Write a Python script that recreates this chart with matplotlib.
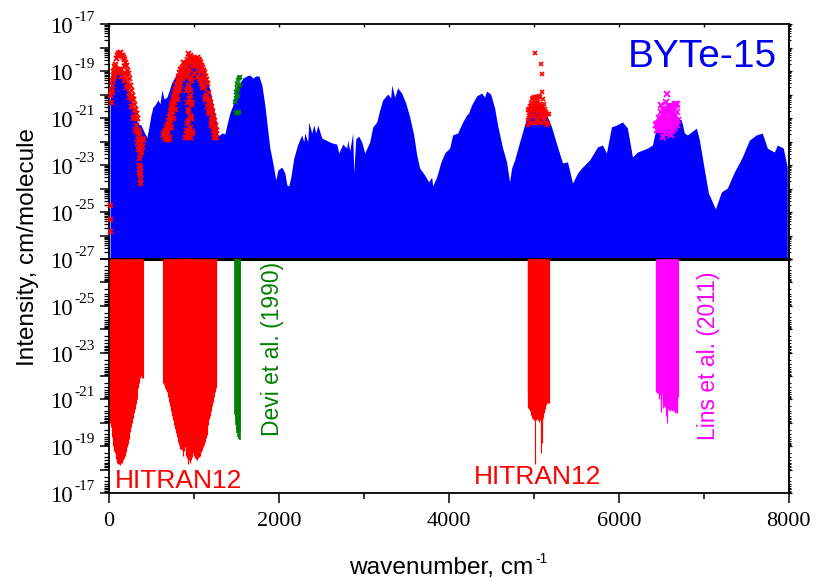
import numpy as np
import matplotlib
matplotlib.use('Agg')
import matplotlib.pyplot as plt
from matplotlib.ticker import FixedLocator, NullFormatter

plt.rcParams['font.family'] = ['Liberation Sans', 'DejaVu Sans']

# BYTe envelope, log10 of intensity
byte_wn = [12, 35, 59, 106, 153, 200, 247, 294, 341, 376, 423, 447, 470, 494, 517, 541, 576, 600, 623, 647,
           682, 741, 811, 905, 976, 1046, 1105, 1164, 1211, 1258, 1281, 1328, 1364, 1387, 1422, 1458, 1493,
           1540, 1575, 1622, 1658, 1693, 1728, 1763, 1799, 1834, 1858, 1893, 1928, 1963, 1987, 2034, 2069,
           2093, 2116, 2140, 2175, 2222, 2269, 2292, 2304, 2339, 2351, 2386, 2410, 2434, 2457, 2504, 2551,
           2622, 2680, 2704, 2751, 2798, 2810, 2833, 2868, 2880, 2904, 2939, 2974, 3010, 3068, 3104, 3151,
           3186, 3221, 3280, 3315, 3327, 3362, 3397, 3444, 3492, 3539, 3586, 3621, 3656, 3715, 3762, 3797,
           3809, 3856, 3903, 3950, 4009, 4044, 4103, 4162, 4209, 4232, 4267, 4326, 4385, 4420, 4444, 4491,
           4538, 4573, 4632, 4679, 4714, 4738, 4773, 4832, 4890, 4949, 5043, 5126, 5208, 5278, 5337, 5396,
           5455, 5514, 5561, 5655, 5749, 5807, 5854, 5913, 5972, 6043, 6101, 6160, 6219, 6337, 6395, 6442,
           6560, 6678, 6736, 6771, 6807, 6913, 6948, 7007, 7054, 7136, 7206, 7277, 7359, 7453, 7536, 7618,
           7688, 7747, 7830, 7865, 7935, 7982]
byte_log = [-19.98, -19.04, -18.87, -19.0, -19.05, -19.4, -20.0, -20.66, -21.26, -21.3, -21.68, -21.81, -21.38,
            -20.87, -20.53, -20.45, -20.23, -20.4, -19.81, -20.19, -20.11, -19.47, -19.04, -18.62, -18.53,
            -18.62, -18.87, -19.47, -20.23, -21.09, -21.77, -21.64, -21.68, -21.3, -20.79, -20.45, -19.72,
            -19.51, -19.3, -19.21, -19.17, -19.3, -19.21, -19.21, -19.6, -20.45, -21.21, -22.28, -22.91,
            -23.64, -23.21, -23.09, -23.34, -23.85, -23.89, -23.51, -22.7, -22.11, -21.72, -22.02, -21.64,
            -22.02, -21.17, -21.64, -21.3, -21.64, -21.3, -21.85, -21.94, -22.06, -22.11, -22.49, -22.11,
            -22.28, -21.94, -22.4, -21.64, -23.34, -21.89, -21.77, -22.02, -22.49, -22.02, -21.38, -21.17,
            -20.66, -20.23, -19.98, -20.15, -19.6, -20.11, -19.72, -19.94, -20.36, -20.96, -21.72, -22.57,
            -23.13, -23.43, -23.72, -23.51, -23.89, -23.51, -22.91, -22.49, -22.28, -21.72, -21.64, -21.17,
            -20.87, -20.79, -20.45, -20.06, -19.94, -20.11, -19.85, -19.98, -20.57, -21.3, -22.28, -22.87,
            -23.72, -23.13, -22.79, -22.02, -21.3, -20.66, -20.23, -20.66, -21.38, -22.23, -22.91, -22.87,
            -23.77, -23.34, -23.13, -22.79, -22.23, -22.15, -22.49, -21.38, -21.3, -21.17, -21.43, -22.66,
            -22.45, -22.28, -22.15, -21.38, -21.51, -20.96, -21.09, -21.64, -21.72, -21.43, -21.94, -23.21,
            -24.19, -24.87, -24.15, -23.98, -23.3, -22.66, -21.94, -21.72, -21.64, -22.28, -22.45, -22.15,
            -22.28, -23.09]

# HITRAN12: strong edge of the low bands
hitran_wn = [12, 24, 35, 47, 59, 70, 82, 94, 106, 118, 129, 141, 153, 165, 176, 188, 200, 212, 223, 235, 247, 259,
             270, 282, 294, 306, 317, 329, 341, 353, 364, 376, 388, 406,
             635, 647, 658, 670, 682, 694, 706, 717, 729, 741, 753, 764, 776, 788, 799, 811, 823, 835, 846,
             858, 870, 882, 893, 905, 917, 929, 940, 952, 964, 976, 987, 999, 1011, 1023, 1034, 1046, 1058,
             1070, 1081, 1093, 1105, 1117, 1128, 1140, 1152, 1164, 1176, 1187, 1199, 1211, 1223, 1234, 1246, 1258]
hitran_log = [-20.0, -19.8, -19.4, -19.0, -18.8, -18.7, -18.45, -18.3, -18.25, -18.25, -18.2, -18.3, -18.3, -18.4,
              -18.5, -18.6, -18.75, -18.95, -19.1, -19.3, -19.6, -19.8, -20.0, -20.2, -20.4, -20.6, -20.8, -21.0,
              -21.5, -21.7, -21.9, -22.0, -22.2, -21.9,
              -21.7, -21.6, -21.5, -21.4, -21.3, -21.1, -20.9, -20.7, -20.5, -20.3, -20.1, -19.9, -19.75, -19.55,
              -19.4, -19.2, -19.05, -18.9, -18.9, -18.85, -18.6, -18.8, -18.95, -18.7, -18.5, -18.25, -18.4, -18.3,
              -18.4, -18.55, -18.75, -18.6, -18.5, -18.45, -18.4, -18.5, -18.55, -18.6, -18.75, -18.85, -18.95,
              -19.05, -19.2, -19.35, -19.5, -19.9, -20.15, -20.3, -20.5, -20.7, -20.9, -21.1, -21.3, -21.5]

# HITRAN12: weaker lines of the low bands
hitran_weak_wn = [10, 10, 10, 35, 59, 82, 106, 141, 176, 200, 235, 259, 282, 306, 329, 341, 353, 364, 353, 364, 364,
                  47, 70, 94, 118, 141, 165, 188, 212, 235, 247, 270, 294, 317, 329, 341, 353, 364, 341, 317,
                  294, 270, 235, 200, 176, 59, 35, 24, 353, 376, 364,
                  388, 647, 670, 694, 682, 706, 717, 729, 741, 764, 788, 811, 835, 858, 882, 905,
                  658, 682, 706, 717, 729, 741, 753, 764, 776, 788, 799, 811, 823, 835, 846, 858, 870, 882,
                  705, 729, 752, 776, 799, 823,
                  929, 952, 929, 952, 940, 964, 929, 952, 917, 940, 976, 893, 917, 952,
                  905, 929, 964, 940, 917, 964, 929, 952, 917, 964, 929, 952, 929, 964, 905, 952, 976, 917, 952,
                  987, 1011, 905,
                  999, 1034, 1070, 1105, 1128, 1152, 1176, 1199, 1223, 1234, 1258, 1234, 1211,
                  1023, 1046, 1070, 1093, 1117, 1140, 1164, 1187, 1211, 1234, 1246, 1058, 1093, 1128, 1164, 1199,
                  1034, 1081]
hitran_weak_log = [-24.7, -25.3, -25.8, -19.6, -19.2, -19.0, -19.0, -19.2, -19.4, -19.7, -20.1, -20.5, -21.0, -21.5,
                   -22.0, -22.3, -22.7, -23.1, -23.3, -23.6, -23.75,
                   -19.3, -19.0, -18.9, -18.9, -18.9, -19.1, -19.3, -19.5, -19.9, -20.1, -20.5, -20.9, -21.3, -21.6,
                   -21.9, -22.2, -22.5, -21.6, -21.0, -20.6, -20.2, -19.6, -19.1, -18.8, -19.1, -19.9, -20.3, -23.0,
                   -22.4, -23.4,
                   -21.9, -21.8, -21.9, -21.9, -21.5, -21.3, -20.9, -20.6, -20.4, -20.2, -20.0, -19.75, -19.55, -19.3,
                   -19.2, -19.1,
                   -21.8, -21.6, -21.4, -21.1, -20.9, -20.7, -20.5, -20.3, -20.1, -19.9, -19.8, -19.6, -19.4, -19.3,
                   -19.2, -19.1, -19.0, -18.9,
                   -21.8, -21.4, -21.0, -20.6, -20.2, -19.8,
                   -19.1, -19.3, -19.6, -19.8, -20.15, -20.4, -20.7, -20.9, -21.2, -21.5, -21.6, -21.8, -21.8, -21.8,
                   -18.6, -18.6, -18.6, -18.9, -19.2, -19.4, -19.6, -20.0, -20.3, -20.3, -20.6, -20.9, -21.1, -21.0,
                   -21.5, -21.4, -21.6, -21.7, -21.8,
                   -18.7, -18.8, -19.8,
                   -19.1, -19.2, -19.4, -19.7, -20.1, -20.5, -20.8, -21.1, -21.5, -21.7, -21.8, -21.8, -21.0,
                   -18.7, -18.9, -19.0, -19.3, -19.6, -20.0, -20.3, -20.7, -21.2, -21.4, -21.7, -19.3, -19.7, -20.2,
                   -20.7, -21.3, -19.2, -19.5]

# HITRAN12 band near 5000
hitran5k_wn = [4926, 4937, 4949, 4961, 4973, 4984, 4996, 5008, 5020, 5032, 5043, 5055, 5067, 5079, 5096, 5090,
               5102, 5114, 5126, 5138, 5149, 5161, 5173,
               4926, 4937, 4949, 4961, 4973, 4984, 4996, 5008, 5020, 5032, 5043, 5055, 5067, 5079, 5090, 5102,
               5114, 5126, 5138, 5161, 4926, 4949, 4984, 5020, 5055, 5090, 5114, 5149, 4961, 5008, 5043, 5102,
               4937, 4961, 4984, 5008, 5032, 5055, 5079, 5102, 5126, 4973, 4996, 5020, 5043, 5067, 5090, 5114]
hitran5k_log = [-20.65, -20.6, -20.5, -20.35, -20.2, -20.15, -20.1, -18.25, -20.1, -20.15, -20.1, -20.05, -20.1,
                -18.7, -19.13, -19.9, -20.2, -20.4, -20.6, -20.75, -20.85, -20.85, -20.85,
                -21.1, -21.0, -20.9, -20.7, -20.6, -20.5, -20.4, -20.3, -20.4, -20.6, -20.3, -20.5, -20.4, -20.6,
                -20.6, -20.5, -20.7, -21.0, -21.2, -21.2, -21.3, -21.2, -21.2, -21.1, -21.2, -21.2, -21.0, -21.3,
                -20.9, -21.2, -21.1, -21.0,
                -20.8, -20.9, -20.7, -20.5, -20.8, -20.7, -20.9, -20.8, -20.9, -20.9, -20.6, -20.9, -20.7, -20.9,
                -20.8, -21.1]

# Devi et al. (1990)
devi_wn = [1481, 1493, 1493, 1505, 1505, 1516, 1516, 1516, 1528, 1528, 1540, 1540, 1505, 1493, 1505, 1516, 1528]
devi_log = [-20.32, -20.15, -19.89, -19.72, -19.55, -19.38, -19.81, -20.06, -19.3, -19.6, -19.26, -19.6, -20.06,
            -20.79, -20.79, -20.79, -20.74]

# Lins et al. (2011)
lins_wn = [6442, 6454, 6454, 6478, 6478, 6478, 6501, 6501, 6501, 6501, 6525, 6525, 6525, 6525, 6525, 6548, 6548,
           6548, 6548, 6548, 6572, 6572, 6572, 6572, 6572, 6595, 6595, 6595, 6595, 6595, 6619, 6619, 6619,
           6619, 6619, 6642, 6642, 6642, 6642, 6642, 6666, 6666, 6666, 6666, 6689, 6689, 6689, 6695, 6501, 6525,
           6466, 6490, 6513, 6536, 6560, 6583, 6607, 6630, 6654, 6677, 6536, 6560, 6583, 6607, 6630, 6654, 6677, 6525]
lins_log = [-21.3, -21.26, -21.5, -21.0, -21.26, -21.5, -20.74, -21.0, -21.3, -21.51, -20.62, -20.87, -21.09,
            -21.43, -21.81, -20.66, -20.87, -21.17, -21.43, -21.64, -19.98, -20.66, -21.0, -21.3, -21.51, -20.54,
            -20.74, -21.09, -21.43, -21.64, -20.57, -20.87, -21.17, -21.3, -21.72, -20.54, -20.74, -21.0, -21.3,
            -21.51, -20.41, -20.87, -21.09, -21.43, -20.41, -20.74, -21.3, -21.09, -20.45, -20.87,
            -21.26, -21.2, -21.3, -20.7, -20.3, -20.6, -20.5, -20.5, -20.5, -20.45, -21.0, -20.9, -21.2, -21.1,
            -20.8, -21.0, -21.2, -21.3]

series_sticks = [
    (hitran_wn + hitran_weak_wn, hitran_log + hitran_weak_log, '#ff0000', 3.6, 1.4, 0.85),
    (hitran5k_wn, hitran5k_log, '#ff0000', 3.4, 1.2, 0.85),
    (devi_wn, devi_log, '#008000', 3.0, 1.2, 1.2),
    (lins_wn, lins_log, '#ff00ff', 3.8, 1.3, 0.9),
]

exps_top = range(-27, -16, 2)
exps_bot = range(-25, -16, 2)
y_major = [10.0**e for e in range(-27, -16)]
y_minor = [m * 10.0**e for e in range(-27, -17) for m in range(2, 10)]

W, H = 816, 578
left, right = 109 / W, 788.8 / W
y_top, y_mid, y_bot = 1 - 24 / H, 1 - 259 / H, 1 - 493 / H

fig = plt.figure(figsize=(W / 100, H / 100), dpi=100)
ax1 = fig.add_axes([left, y_mid, right - left, y_top - y_mid])
ax2 = fig.add_axes([left, y_bot, right - left, y_mid - y_bot])

# blue spectrum
ax1.fill_between(byte_wn, 10.0**np.array(byte_log), 1e-27, color='#0000ff', lw=0, zorder=2)

# measured lines as crosses on top, sticks hanging below
for wn, lg, col, ms, mew, lw in series_sticks:
    ii = 10.0**np.array(lg)
    ax1.plot(wn, ii, ls='', marker='x', ms=ms, mew=mew, color=col, zorder=3, clip_on=False)
    ax2.vlines(wn, 1e-27, ii, color=col, lw=lw, zorder=3)

for ax, exps in ((ax1, exps_top), (ax2, exps_bot)):
    ax.set_yscale('log')
    ax.set_xlim(0, 8000)
    ax.xaxis.set_major_locator(FixedLocator([0, 2000, 4000, 6000, 8000]))
    ax.xaxis.set_minor_locator(FixedLocator([1000, 3000, 5000, 7000]))
    ax.yaxis.set_major_locator(FixedLocator(y_major))
    ax.yaxis.set_minor_locator(FixedLocator(y_minor))
    ax.yaxis.set_major_formatter(NullFormatter())
    ax.yaxis.set_minor_formatter(NullFormatter())
    ax.tick_params(axis='y', which='major', direction='out', length=6.7, width=1.1)
    ax.tick_params(axis='y', which='minor', direction='out', length=3.6, width=0.9)
    for side in ['top', 'bottom', 'left', 'right']:
        ax.spines[side].set_linewidth(1.3)

    # short ticks on the right side
    sec = ax.secondary_yaxis('right')
    sec.yaxis.set_major_locator(FixedLocator(y_major))
    sec.yaxis.set_minor_locator(FixedLocator(y_minor))
    sec.yaxis.set_major_formatter(NullFormatter())
    sec.yaxis.set_minor_formatter(NullFormatter())
    sec.tick_params(which='major', direction='out', length=2.2, width=0.9)
    sec.tick_params(which='minor', direction='out', length=1.4, width=0.7)
    sec.spines['right'].set_linewidth(1.3)

    # 10 and the exponent are set apart so the exponent keeps a plain hyphen
    for e in exps:
        ax.annotate('10', xy=(0, 10.0**e), xycoords=ax.get_yaxis_transform(), xytext=(-26, -6.5),
                    textcoords='offset points', ha='right', va='baseline', fontsize=16.5,
                    family='Liberation Serif', annotation_clip=False)
        ax.annotate(str(e), xy=(0, 10.0**e), xycoords=ax.get_yaxis_transform(), xytext=(-25, 2.2),
                    textcoords='offset points', ha='left', va='baseline', fontsize=11,
                    family='Liberation Serif', annotation_clip=False)

ax1.set_ylim(1e-27, 1e-17)
ax2.set_ylim(1e-17, 1e-27)
ax1.tick_params(axis='x', which='both', bottom=False, top=True, direction='in', length=2, width=1, labelbottom=False)
ax2.tick_params(axis='x', which='major', top=False, direction='out', length=7, width=1.1, pad=7)
ax2.tick_params(axis='x', which='minor', top=False, direction='out', length=4, width=1.1)
ax2.set_xticklabels(['0', '2000', '4000', '6000', '8000'], family='Liberation Serif', fontsize=16)
ax1.spines['bottom'].set_linewidth(2.2)
ax2.spines['top'].set_linewidth(2.2)

fig.text(28 / W, 1 - 247 / H, 'Intensity, cm/molecule', rotation=90, fontsize=17.5, ha='center', va='center')
fig.text(349 / W, 1 - 574 / H, 'wavenumber, cm', fontsize=17.6, ha='left', va='baseline')
fig.text(535 / W, 1 - 563 / H, '-1', fontsize=10, ha='left', va='baseline')

fig.text(628 / W, 1 - 67 / H, 'BYTe-15', fontsize=28, color='#0000f0', ha='left', va='baseline')
fig.text(115 / W, 1 - 488 / H, 'HITRAN12', fontsize=19, color='#ff0000', ha='left', va='baseline')
fig.text(474 / W, 1 - 484 / H, 'HITRAN12', fontsize=19, color='#ff0000', ha='left', va='baseline')
fig.text(273 / W, 1 - 349 / H, 'Devi et al. (1990)', rotation=90, fontsize=16.5, color='#008000', ha='center', va='center')
fig.text(709 / W, 1 - 356 / H, 'Lins et al. (2011)', rotation=90, fontsize=16.5, color='#ff00ff', ha='center', va='center')

fig.savefig('out.png', dpi=100)
